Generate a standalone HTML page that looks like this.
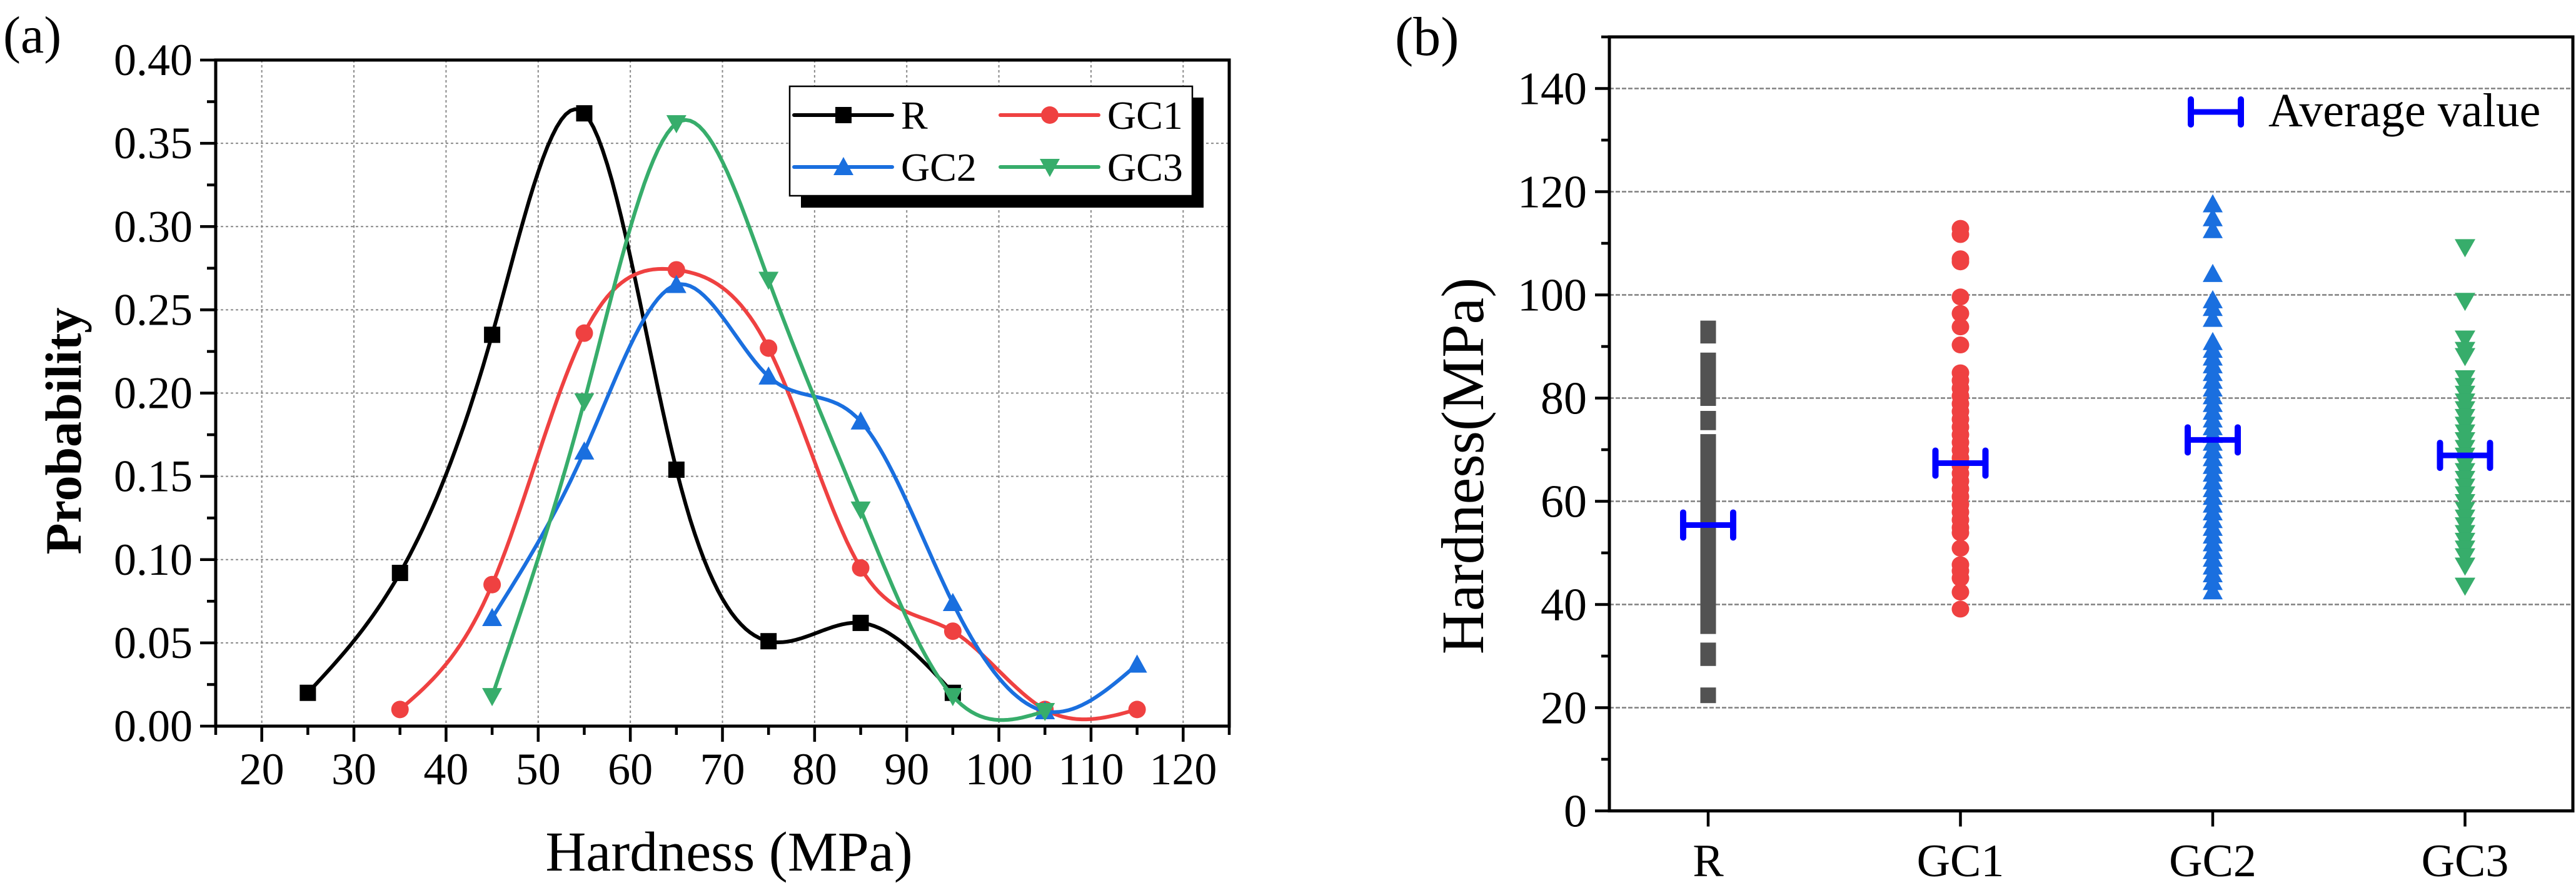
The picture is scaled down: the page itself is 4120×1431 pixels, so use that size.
<!DOCTYPE html>
<html><head><meta charset="utf-8"><style>
html,body{margin:0;padding:0;background:#fff;}
svg, svg text{font-family:"Liberation Serif","Times New Roman","DejaVu Serif",serif;}
</style></head><body>
<svg id="fig" xmlns="http://www.w3.org/2000/svg" width="4120" height="1426" viewBox="0 0 4120 1426" font-family="Liberation Serif, serif">
<rect x="0" y="0" width="4120" height="1426" fill="#fff"/>
<g id="pa"></g>
<g id="pb"></g>
</svg>
<script>
// ---------- Panel (a) data ----------
const aXTicks = [20,30,40,50,60,70,80,90,100,110,120];
const aYTicks = [0,0.05,0.10,0.15,0.20,0.25,0.30,0.35,0.40];
const aYLabels = ["0.00","0.05","0.10","0.15","0.20","0.25","0.30","0.35","0.40"];
const seriesNames = ["R","GC1","GC2","GC3"];
const rX = [25,35,45,55,65,75,85,95];
const rY = [0.020,0.092,0.235,0.368,0.154,0.051,0.062,0.020];
const gc1X = [35,45,55,65,75,85,95,105,115];
const gc1Y = [0.010,0.085,0.236,0.274,0.227,0.095,0.057,0.010,0.010];
const gc2X = [45,55,65,75,85,95,105,115];
const gc2Y = [0.065,0.165,0.265,0.210,0.183,0.074,0.009,0.037];
const gc3X = [45,55,65,75,85,95,105];
const gc3Y = [0.018,0.195,0.362,0.268,0.130,0.018,0.009];
// ---------- Panel (b) data ----------
const bCats = ["R","GC1","GC2","GC3"];
const bYTicks = [0,20,40,60,80,100,120,140];
const bR = [93.5,92.1,87.3,85,82.5,80,76,75.3,71.5,70,68.5,67,65.5,64,62.5,61,59.5,58,56.5,55,53.5,52,50.5,49,47.5,46,44.5,43,41.5,40,38.5,37,35.8,31.1,29.6,22.4];
const bGC1 = [112.9,111.7,107,106.4,99.6,96.4,93.8,90.3,84.9,83.4,81.9,80.4,78.9,77.4,75.9,74.4,72.9,71.4,69.9,68.4,66.9,65.4,63.9,62.4,60.9,59.4,57.9,56.4,54.9,53.9,50.9,47.7,46.5,45.1,42.4,39.1];
const bGC2 = [117.7,115,112.7,104.2,99.1,97.6,95.5,91,89.5,88,86.5,85,83.5,82,80.5,79,77.5,76,74.5,73,71.5,70,68.5,67,65.5,64,62.5,61,59.5,58,56.5,55,53.5,52,50.5,49,47.5,46,44.5,42.7];
const bGC3 = [109.1,98.7,91.4,89.2,88,83.7,82.2,80.7,79.2,77.7,76.2,74.7,73.2,71.7,70.2,68.7,67.2,65.7,64.2,62.7,61.2,59.7,58.2,56.7,55.2,53.7,52.2,50.7,49.2,47.4,43.5];
const bMeans = [55.4,67.4,71.9,68.9];

const NS="http://www.w3.org/2000/svg";
const FONT='"Liberation Serif","Times New Roman",serif';
function mk(parent,tag,attrs,text){const e=document.createElementNS(NS,tag);for(const k in attrs)e.setAttribute(k,attrs[k]);if(text!==undefined){e.textContent=text;e.style.fontFamily=FONT;}parent.appendChild(e);return e;}
const colors={R:"#000000",GC1:"#ef4141",GC2:"#1a6fdf",GC3:"#37ad6b"};

// ---------- Panel A ----------
const pa=document.getElementById('pa');
const AL=345,AR=1966,AT=96,AB=1161;
const ax=v=>AL+(v-15)*(AR-AL)/110;
const ay=p=>AB-p*(AB-AT)/0.4;
aXTicks.forEach(t=>{const g=mk(pa,'line',{x1:ax(t),x2:ax(t),y1:AT,y2:AB,stroke:'#8a8a8a','stroke-width':2,'stroke-dasharray':'4 4'});

});
aYTicks.forEach(t=>{if(t===0)return;const g=mk(pa,'line',{x1:AL,x2:AR,y1:ay(t),y2:ay(t),stroke:'#8a8a8a','stroke-width':2,'stroke-dasharray':'4 4'});

});
for(let v=15;v<=125;v+=5){const major=(v%10===0);const t=mk(pa,'line',{x1:ax(v),x2:ax(v),y1:AB,y2:AB+(major?25:14),stroke:'#000','stroke-width':4.5});

}
for(let i=0;i<=16;i++){const p=i*0.025;const major=(i%2===0);const t=mk(pa,'line',{x1:AL,x2:AL-(major?25:14),y1:ay(p),y2:ay(p),stroke:'#000','stroke-width':4.5});

}
aXTicks.forEach(t=>{const l=mk(pa,'text',{x:ax(t),y:1254,'font-size':72,'text-anchor':'middle'},String(t));

});
aYTicks.forEach((t,i)=>{const l=mk(pa,'text',{x:308,y:ay(t)+24,'font-size':72,'text-anchor':'end'},aYLabels[i]);

});
function spline(xs,ys){const n=xs.length;const h=[],al=[0],l=[1],mu=[0],z=[0],c=new Array(n).fill(0),b=[],d=[];
for(let i=0;i<n-1;i++)h.push(xs[i+1]-xs[i]);
for(let i=1;i<n-1;i++)al.push(3/h[i]*(ys[i+1]-ys[i])-3/h[i-1]*(ys[i]-ys[i-1]));
for(let i=1;i<n-1;i++){l[i]=2*(xs[i+1]-xs[i-1])-h[i-1]*mu[i-1];mu[i]=h[i]/l[i];z[i]=(al[i]-h[i-1]*z[i-1])/l[i];}
for(let j=n-2;j>=0;j--){c[j]=(j===0?0:z[j]-mu[j]*c[j+1]);b[j]=(ys[j+1]-ys[j])/h[j]-h[j]*(c[j+1]+2*c[j])/3;d[j]=(c[j+1]-c[j])/(3*h[j]);}
let pts=[];for(let j=0;j<n-1;j++){for(let s=0;s<=20;s++){const t=h[j]*s/20;const y=ys[j]+b[j]*t+c[j]*t*t+d[j]*t*t*t;pts.push(ax(xs[j]+t).toFixed(1)+','+ay(y).toFixed(1));}}
return 'M'+pts.join(' L');}
function marker(g,name,cx,cy,col){
 if(name==='R')return mk(g,'rect',{x:cx-13,y:cy-13,width:26,height:26,fill:col});
 if(name==='GC1')return mk(g,'ellipse',{cx:cx,cy:cy,rx:14,ry:14,fill:col});
 if(name==='GC2')return mk(g,'polygon',{points:`${cx},${cy-16} ${cx+16},${cy+13} ${cx-16},${cy+13}`,fill:col});
 return mk(g,'polygon',{points:`${cx},${cy+16} ${cx+16},${cy-13} ${cx-16},${cy-13}`,fill:col});}
const aSeries=[[rX,rY],[gc1X,gc1Y],[gc2X,gc2Y],[gc3X,gc3Y]];
aSeries.forEach((s,k)=>{const nm=seriesNames[k];const col=colors[nm];
 const g=mk(pa,'g',{});
 
 
 const p=mk(g,'path',{d:spline(s[0],s[1]),fill:'none',stroke:col,'stroke-width':6,'stroke-linejoin':'round'});
 
 
 s[0].forEach((x,i)=>{const m=marker(g,nm,ax(x),ay(s[1][i]),col);
 
 });});
const fa=mk(pa,'rect',{x:AL,y:AT,width:AR-AL,height:AB-AT,fill:'none',stroke:'#000','stroke-width':5});


const lg=mk(pa,'g',{});


mk(lg,'rect',{x:1281,y:156,width:644,height:176,fill:'#000'});
mk(lg,'rect',{x:1263,y:138,width:644,height:175,fill:'#fff',stroke:'#000','stroke-width':2.5});
const legPos=[[1270,184,'R'],[1600,184,'GC1'],[1270,267,'GC2'],[1600,267,'GC3']];
legPos.forEach(([x,y,nm])=>{const e=mk(lg,'g',{});
 
 
 mk(e,'line',{x1:x,x2:x+157,y1:y,y2:y,stroke:colors[nm],'stroke-width':6,'stroke-linecap':'round'});
 marker(e,nm,x+79,y,colors[nm]);
 mk(e,'text',{x:x+171,y:y+22,'font-size':64},nm);});
const la=mk(pa,'text',{x:5,y:84,'font-size':84},'(a)');


const xt=mk(pa,'text',{x:1166,y:1392,'font-size':90,'text-anchor':'middle'},'Hardness (MPa)');


const yt=mk(pa,'text',{x:0,y:0,'font-size':82,'font-weight':'bold','text-anchor':'middle',transform:'translate(129,689) rotate(-90)'},'Probability');



// ---------- Panel B ----------
const pb=document.getElementById('pb');
const BL=2574,BR=4115,BB=1296.5;
const by=v=>BB-v*8.25;
const bx=i=>2732+i*403.5;
const BT=by(150);
bYTicks.forEach(t=>{if(t===0)return;const g=mk(pb,'line',{x1:BL,x2:BR,y1:by(t),y2:by(t),stroke:'#808080','stroke-width':2.5,'stroke-dasharray':'7 3'});

});
for(let v=0;v<=150;v+=10){const major=(v%20===0);const t=mk(pb,'line',{x1:BL,x2:BL-(major?23:13),y1:by(v),y2:by(v),stroke:'#000','stroke-width':4.5});

}
bYTicks.forEach(t=>{const l=mk(pb,'text',{x:2538,y:by(t)+25,'font-size':74,'text-anchor':'end'},String(t));

});
bCats.forEach((c,i)=>{const t=mk(pb,'line',{x1:bx(i),x2:bx(i),y1:BB,y2:BB+25,stroke:'#000','stroke-width':4.5});


const l=mk(pb,'text',{x:bx(i),y:1401,'font-size':74,'text-anchor':'middle'},c);

});
const bCol=["#525252","#ef4141","#1a6fdf","#37ad6b"];
[bR,bGC1,bGC2,bGC3].forEach((vals,i)=>{const g=mk(pb,'g',{});
 
 
 vals.forEach(v=>{const cx=bx(i),cy=by(v);let m;
  if(i===0)m=mk(g,'rect',{x:cx-12.5,y:cy-12.5,width:25,height:25,fill:bCol[0]});
  else if(i===1)m=mk(g,'ellipse',{cx:cx,cy:cy,rx:14,ry:13.5,fill:bCol[1]});
  else if(i===2)m=mk(g,'polygon',{points:`${cx},${cy-15} ${cx+16},${cy+14} ${cx-16},${cy+14}`,fill:bCol[2]});
  else m=mk(g,'polygon',{points:`${cx},${cy+15} ${cx+16.5},${cy-14} ${cx-16.5},${cy-14}`,fill:bCol[3]});
  
  });});
function ebar(g,cx,cy){mk(g,'line',{x1:cx-40,x2:cx+40,y1:cy,y2:cy,stroke:'#0000ff','stroke-width':9});
 mk(g,'line',{x1:cx-40,x2:cx-40,y1:cy-20,y2:cy+20,stroke:'#0000ff','stroke-width':10,'stroke-linecap':'round'});
 mk(g,'line',{x1:cx+40,x2:cx+40,y1:cy-20,y2:cy+20,stroke:'#0000ff','stroke-width':10,'stroke-linecap':'round'});}
bMeans.forEach((m,i)=>{const g=mk(pb,'g',{});
 
 
 ebar(g,bx(i),by(m));});
const fb=mk(pb,'rect',{x:BL,y:BT,width:BR-BL,height:BB-BT,fill:'none',stroke:'#000','stroke-width':5});


const lb=mk(pb,'g',{});


ebar(lb,3544,179);
mk(lb,'text',{x:3628,y:202,'font-size':76},'Average value');
const lab=mk(pb,'text',{x:2231,y:88,'font-size':88},'(b)');


const ytb=mk(pb,'text',{x:0,y:0,'font-size':96,'text-anchor':'middle',transform:'translate(2372,745) rotate(-90)'},'Hardness(MPa)');


</script>
</body></html>
